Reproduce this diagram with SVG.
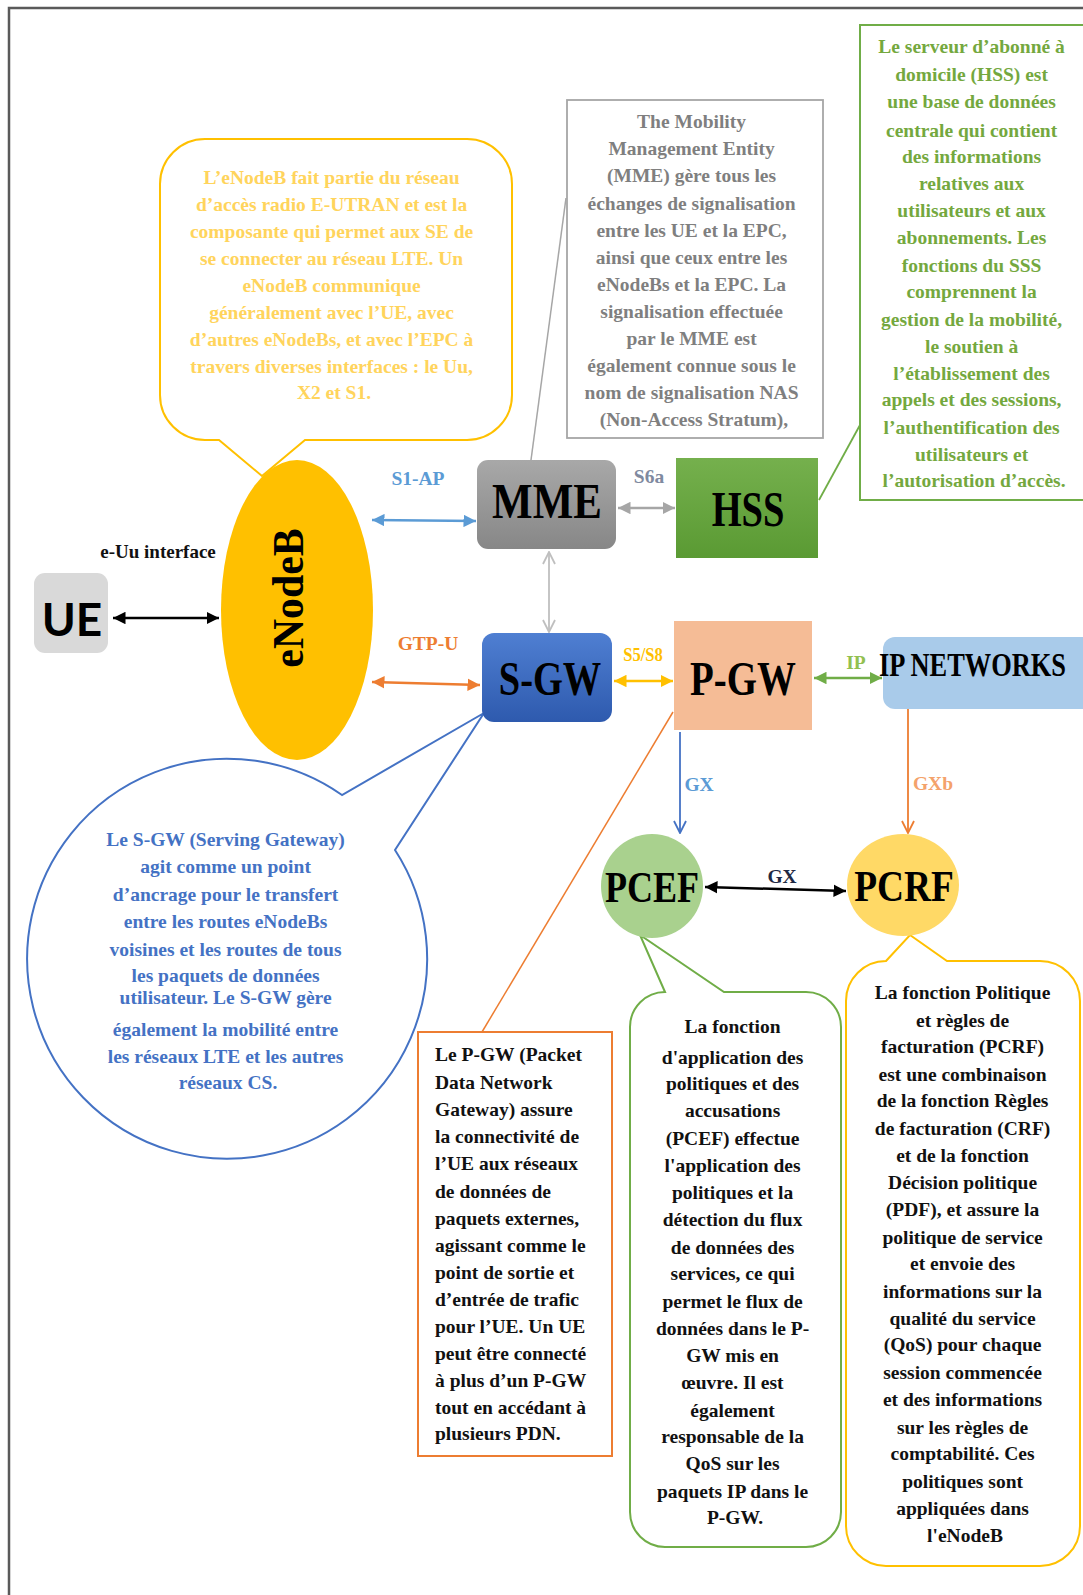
<svg xmlns="http://www.w3.org/2000/svg" width="1083" height="1595" viewBox="0 0 1083 1595">
<style>
  text { font-family: "Liberation Serif", "Times New Roman", serif; font-weight: bold; }
  .ct { font-size: 19.5px; }
  .mid { text-anchor: middle; }
  .big { fill: #000; text-anchor: middle; }
  .lbl { font-size: 19.5px; text-anchor: middle; }
  .thin { fill: none; stroke-width: 1.8; }
  .thick { fill: none; stroke-width: 2.5; }
</style>
<defs>
  <linearGradient id="gMME" x1="0" y1="0" x2="0" y2="1"><stop offset="0" stop-color="#A8A8A8"/><stop offset="1" stop-color="#878787"/></linearGradient>
  <linearGradient id="gHSS" x1="0" y1="0" x2="0" y2="1"><stop offset="0" stop-color="#75B04D"/><stop offset="1" stop-color="#5A9A33"/></linearGradient>
  <linearGradient id="gSGW" x1="0" y1="0" x2="0" y2="1"><stop offset="0" stop-color="#4F7FD2"/><stop offset="1" stop-color="#2E5AAE"/></linearGradient>
  <marker id="aK" viewBox="0 0 10 10" refX="10" refY="5" markerWidth="5" markerHeight="5" orient="auto-start-reverse"><path d="M0,0 L10,5 L0,10 Z" fill="#000"/></marker>
  <marker id="aB" viewBox="0 0 10 10" refX="10" refY="5" markerWidth="5" markerHeight="5" orient="auto-start-reverse"><path d="M0,0 L10,5 L0,10 Z" fill="#5B9BD5"/></marker>
  <marker id="aO" viewBox="0 0 10 10" refX="10" refY="5" markerWidth="5" markerHeight="5" orient="auto-start-reverse"><path d="M0,0 L10,5 L0,10 Z" fill="#ED7D31"/></marker>
  <marker id="aG" viewBox="0 0 10 10" refX="10" refY="5" markerWidth="5" markerHeight="5" orient="auto-start-reverse"><path d="M0,0 L10,5 L0,10 Z" fill="#A6A6A6"/></marker>
  <marker id="aY" viewBox="0 0 10 10" refX="10" refY="5" markerWidth="5" markerHeight="5" orient="auto-start-reverse"><path d="M0,0 L10,5 L0,10 Z" fill="#FFC000"/></marker>
  <marker id="aN" viewBox="0 0 10 10" refX="10" refY="5" markerWidth="5" markerHeight="5" orient="auto-start-reverse"><path d="M0,0 L10,5 L0,10 Z" fill="#70AD47"/></marker>
  <marker id="oG" viewBox="0 0 14 14" refX="13" refY="7" markerWidth="14" markerHeight="14" markerUnits="userSpaceOnUse" orient="auto-start-reverse"><path d="M1,1 L13,7 L1,13" fill="none" stroke="#BFBFBF" stroke-width="1.8"/></marker>
  <marker id="oB" viewBox="0 0 14 14" refX="13" refY="7" markerWidth="14" markerHeight="14" markerUnits="userSpaceOnUse" orient="auto-start-reverse"><path d="M1,1 L13,7 L1,13" fill="none" stroke="#4472C4" stroke-width="1.8"/></marker>
  <marker id="oO" viewBox="0 0 14 14" refX="13" refY="7" markerWidth="14" markerHeight="14" markerUnits="userSpaceOnUse" orient="auto-start-reverse"><path d="M1,1 L13,7 L1,13" fill="none" stroke="#ED7D31" stroke-width="1.8"/></marker>
</defs>
<rect width="1083" height="1595" fill="#fff"/>
<path d="M9,1595 V8 H1083" fill="none" stroke="#5A5A5A" stroke-width="2.5"/>

<!-- Callouts -->
<g id="callout-enodeb">
  <path d="M205,139 H467 A45,45 0 0 1 512,184 V395 A45,45 0 0 1 467,440 H305 L262,476 L219,440 H205 A45,45 0 0 1 160,395 V184 A45,45 0 0 1 205,139 Z" fill="#fff" stroke="#FFC000" stroke-width="2"/>
  <text class="ct mid" fill="#FFD45C">
    <tspan x="334" y="184">L’eNodeB fait partie du réseau</tspan>
    <tspan x="334" y="211">d’accès radio E-UTRAN et est la</tspan>
    <tspan x="334" y="238">composante qui permet aux SE de</tspan>
    <tspan x="334" y="265">se connecter au réseau LTE. Un</tspan>
    <tspan x="334" y="292">eNodeB communique</tspan>
    <tspan x="334" y="319">généralement avec l’UE, avec</tspan>
    <tspan x="334" y="346">d’autres eNodeBs, et avec l’EPC à</tspan>
    <tspan x="334" y="373">travers diverses interfaces : le Uu,</tspan>
    <tspan x="334" y="399">X2 et S1.</tspan>
  </text>
</g>
<g id="callout-mme">
  <rect x="567" y="100" width="256" height="338" fill="#fff" stroke="#A6A6A6" stroke-width="1.8"/>
  <text class="ct mid" fill="#7F7F7F">
    <tspan x="694" y="128">The Mobility</tspan>
    <tspan x="694" y="155">Management Entity</tspan>
    <tspan x="694" y="182">(MME) gère tous les</tspan>
    <tspan x="694" y="210">échanges de signalisation</tspan>
    <tspan x="694" y="237">entre les UE et la EPC,</tspan>
    <tspan x="694" y="264">ainsi que ceux entre les</tspan>
    <tspan x="694" y="291">eNodeBs et la EPC. La</tspan>
    <tspan x="694" y="318">signalisation  effectuée</tspan>
    <tspan x="694" y="345">par le MME est</tspan>
    <tspan x="694" y="372">également connue sous le</tspan>
    <tspan x="694" y="399">nom de signalisation NAS</tspan>
    <tspan x="694" y="426">(Non-Access Stratum),</tspan>
  </text>
</g>
<g id="callout-hss">
  <rect x="860" y="25" width="240" height="475" fill="#fff" stroke="#70AD47" stroke-width="2"/>
  <text class="ct mid" fill="#74A83E">
    <tspan x="974" y="53">Le serveur d’abonné à</tspan>
    <tspan x="974" y="81">domicile (HSS)  est</tspan>
    <tspan x="974" y="108">une base de données</tspan>
    <tspan x="974" y="137">centrale qui contient</tspan>
    <tspan x="974" y="163">des informations</tspan>
    <tspan x="974" y="190">relatives aux</tspan>
    <tspan x="974" y="217">utilisateurs et aux</tspan>
    <tspan x="974" y="244">abonnements. Les</tspan>
    <tspan x="974" y="272">fonctions du SSS</tspan>
    <tspan x="974" y="298">comprennent la</tspan>
    <tspan x="974" y="326">gestion de la mobilité,</tspan>
    <tspan x="974" y="353">le soutien à</tspan>
    <tspan x="974" y="380">l’établissement des</tspan>
    <tspan x="974" y="406">appels et des sessions,</tspan>
    <tspan x="974" y="434">l’authentification des</tspan>
    <tspan x="974" y="461">utilisateurs et</tspan>
    <tspan x="974" y="487">l’autorisation d’accès.</tspan>
  </text>
</g>
<g id="callout-sgw">
  <path d="M342,795 A200,200 0 1 0 395,850 L484,713 Z" fill="#fff" stroke="#4472C4" stroke-width="2"/>
  <text class="ct mid" fill="#4472C4">
    <tspan x="228" y="846">Le S-GW (Serving Gateway)</tspan>
    <tspan x="228" y="873">agit comme un point</tspan>
    <tspan x="228" y="901">d’ancrage pour le transfert</tspan>
    <tspan x="228" y="928">entre les routes eNodeBs</tspan>
    <tspan x="228" y="956">voisines et les routes de tous</tspan>
    <tspan x="228" y="982">les paquets de données</tspan>
    <tspan x="228" y="1004">utilisateur. Le S-GW gère</tspan>
    <tspan x="228" y="1036">également la mobilité entre</tspan>
    <tspan x="228" y="1063">les réseaux LTE et les autres</tspan>
    <tspan x="228" y="1089">réseaux CS.</tspan>
  </text>
</g>
<g id="callout-pgw">
  <rect x="418" y="1032" width="194" height="424" fill="#fff" stroke="#ED7D31" stroke-width="2"/>
  <text class="ct" fill="#111">
    <tspan x="435" y="1061">Le P-GW (Packet</tspan>
    <tspan x="435" y="1089">Data Network</tspan>
    <tspan x="435" y="1116">Gateway) assure</tspan>
    <tspan x="435" y="1143">la connectivité de</tspan>
    <tspan x="435" y="1170">l’UE aux réseaux</tspan>
    <tspan x="435" y="1198">de données de</tspan>
    <tspan x="435" y="1225">paquets externes,</tspan>
    <tspan x="435" y="1252">agissant comme le</tspan>
    <tspan x="435" y="1279">point de sortie et</tspan>
    <tspan x="435" y="1306">d’entrée de trafic</tspan>
    <tspan x="435" y="1333">pour l’UE. Un UE</tspan>
    <tspan x="435" y="1360">peut être connecté</tspan>
    <tspan x="435" y="1387">à plus d’un P-GW</tspan>
    <tspan x="435" y="1414">tout en accédant à</tspan>
    <tspan x="435" y="1440">plusieurs PDN.</tspan>
  </text>
</g>
<g id="callout-pcef">
  <path d="M665,992 L640,935 L724,992 H806 A35,35 0 0 1 841,1027 V1512 A35,35 0 0 1 806,1547 H665 A35,35 0 0 1 630,1512 V1027 A35,35 0 0 1 665,992 Z" fill="#fff" stroke="#70AD47" stroke-width="2"/>
  <text class="ct mid" fill="#111">
    <tspan x="735" y="1033">La fonction</tspan>
    <tspan x="735" y="1064">d'application des</tspan>
    <tspan x="735" y="1090">politiques et des</tspan>
    <tspan x="735" y="1117">accusations</tspan>
    <tspan x="735" y="1145">(PCEF) effectue</tspan>
    <tspan x="735" y="1172">l'application des</tspan>
    <tspan x="735" y="1199">politiques et la</tspan>
    <tspan x="735" y="1226">détection du flux</tspan>
    <tspan x="735" y="1254">de données des</tspan>
    <tspan x="735" y="1280">services, ce qui</tspan>
    <tspan x="735" y="1308">permet le flux de</tspan>
    <tspan x="735" y="1335">données dans le P-</tspan>
    <tspan x="735" y="1362">GW mis  en</tspan>
    <tspan x="735" y="1389">œuvre. Il est</tspan>
    <tspan x="735" y="1417">également</tspan>
    <tspan x="735" y="1443">responsable de la</tspan>
    <tspan x="735" y="1470">QoS sur les</tspan>
    <tspan x="735" y="1498">paquets IP dans le</tspan>
    <tspan x="735" y="1524">P-GW.</tspan>
  </text>
</g>
<g id="callout-pcrf">
  <path d="M886,961 L910,935 L947,961 H1040 A40,40 0 0 1 1080,1001 V1526 A40,40 0 0 1 1040,1566 H886 A40,40 0 0 1 846,1526 V1001 A40,40 0 0 1 886,961 Z" fill="#fff" stroke="#FFC000" stroke-width="2"/>
  <text class="ct mid" fill="#111">
    <tspan x="965" y="999">La fonction Politique</tspan>
    <tspan x="965" y="1027">et règles de</tspan>
    <tspan x="965" y="1053">facturation (PCRF)</tspan>
    <tspan x="965" y="1081">est une combinaison</tspan>
    <tspan x="965" y="1107">de la fonction Règles</tspan>
    <tspan x="965" y="1135">de facturation (CRF)</tspan>
    <tspan x="965" y="1162">et de la fonction</tspan>
    <tspan x="965" y="1189">Décision politique</tspan>
    <tspan x="965" y="1216">(PDF), et assure la</tspan>
    <tspan x="965" y="1244">politique de service</tspan>
    <tspan x="965" y="1270">et envoie des</tspan>
    <tspan x="965" y="1298">informations sur la</tspan>
    <tspan x="965" y="1325">qualité du service</tspan>
    <tspan x="965" y="1351">(QoS) pour chaque</tspan>
    <tspan x="965" y="1379">session  commencée</tspan>
    <tspan x="965" y="1406">et des informations</tspan>
    <tspan x="965" y="1434">sur les règles de</tspan>
    <tspan x="965" y="1460">comptabilité. Ces</tspan>
    <tspan x="965" y="1488">politiques sont</tspan>
    <tspan x="965" y="1515">appliquées dans</tspan>
    <tspan x="965" y="1542">l'eNodeB</tspan>
  </text>
</g>

<!-- Connectors -->
<g id="connectors">
  <line x1="566" y1="198" x2="531" y2="460" stroke="#A6A6A6" stroke-width="1.5"/>
  <line x1="860" y1="425" x2="819" y2="500" stroke="#70AD47" stroke-width="1.8"/>
  <line x1="673" y1="712" x2="482" y2="1032" stroke="#ED7D31" stroke-width="1.5"/>
  <line class="thick" x1="113" y1="618" x2="219" y2="618" stroke="#000" marker-start="url(#aK)" marker-end="url(#aK)"/>
  <line class="thick" x1="372" y1="520" x2="476" y2="521" stroke="#5B9BD5" marker-start="url(#aB)" marker-end="url(#aB)"/>
  <line class="thick" x1="372" y1="682" x2="480" y2="685" stroke="#ED7D31" marker-start="url(#aO)" marker-end="url(#aO)"/>
  <line class="thick" x1="618" y1="508" x2="675" y2="508" stroke="#A6A6A6" marker-start="url(#aG)" marker-end="url(#aG)"/>
  <line class="thin" x1="549" y1="552" x2="549" y2="632" stroke="#BFBFBF" marker-start="url(#oG)" marker-end="url(#oG)"/>
  <line class="thick" x1="614" y1="681" x2="673" y2="681" stroke="#FFC000" marker-start="url(#aY)" marker-end="url(#aY)"/>
  <line class="thick" x1="814" y1="678" x2="882" y2="678" stroke="#70AD47" marker-start="url(#aN)" marker-end="url(#aN)"/>
  <line class="thin" x1="680" y1="732" x2="680" y2="833" stroke="#4472C4" marker-end="url(#oB)"/>
  <line class="thin" x1="908" y1="709" x2="908" y2="833" stroke="#ED7D31" marker-end="url(#oO)"/>
  <line class="thick" x1="705" y1="887" x2="846" y2="891" stroke="#000" marker-start="url(#aK)" marker-end="url(#aK)"/>
  <text x="158" y="558" font-size="19" text-anchor="middle" fill="#111">e-Uu interface</text>
  <text class="lbl" x="418" y="485" fill="#5B9BD5">S1-AP</text>
  <text class="lbl" x="428" y="650" fill="#ED7D31">GTP-U</text>
  <text class="lbl" x="649" y="483" fill="#7F8AA0">S6a</text>
  <text class="lbl" transform="translate(643,661) scale(0.85,1)" x="0" y="0" font-size="19" fill="#FFC000">S5/S8</text>
  <text class="lbl" x="856" y="669" fill="#92C050">IP</text>
  <text class="lbl" x="699" y="791" fill="#5B9BD5">GX</text>
  <text class="lbl" x="933" y="790" fill="#F4A26B">GXb</text>
  <text class="lbl" x="782" y="883" fill="#1F2A44">GX</text>
</g>

<!-- Nodes -->
<g id="node-ue">
  <rect x="34" y="573" width="74" height="80" rx="11" fill="#D9D9D9"/>
  <text x="72" y="636" font-size="46" text-anchor="middle" fill="#000" style="font-family: Lato, 'Liberation Sans', sans-serif">UE</text>
</g>
<g id="node-enodeb">
  <ellipse cx="297" cy="610" rx="76" ry="150" fill="#FFC000"/>
  <text class="big" transform="translate(303,598) rotate(-90) scale(0.95,1)" font-size="44">eNodeB</text>
</g>
<g id="node-mme">
  <rect x="477" y="460" width="139" height="89" rx="11" fill="url(#gMME)"/>
  <text class="big" transform="translate(547,518) scale(0.86,1)" font-size="50">MME</text>
</g>
<g id="node-hss">
  <rect x="676" y="458" width="142" height="100" fill="url(#gHSS)"/>
  <text class="big" transform="translate(748,526) scale(0.77,1)" font-size="50">HSS</text>
</g>
<g id="node-sgw">
  <rect x="482" y="633" width="130" height="89" rx="12" fill="url(#gSGW)"/>
  <text class="big" transform="translate(550,695) scale(0.8,1)" font-size="48">S-GW</text>
</g>
<g id="node-pgw">
  <rect x="674" y="621" width="138" height="109" fill="#F5BC96"/>
  <text class="big" transform="translate(743,695) scale(0.81,1)" font-size="48">P-GW</text>
</g>
<g id="node-ipnet">
  <rect x="883" y="637" width="230" height="72" rx="12" fill="#A9CBEA"/>
  <text transform="translate(879,676) scale(0.8,1)" font-size="33" fill="#000">IP NETWORKS</text>
</g>
<g id="node-pcef">
  <ellipse cx="652" cy="886" rx="51" ry="52" fill="#A9D18E"/>
  <text class="big" transform="translate(652,902) scale(0.82,1)" font-size="44">PCEF</text>
</g>
<g id="node-pcrf">
  <ellipse cx="903" cy="885" rx="56" ry="51" fill="#FFD966"/>
  <text class="big" transform="translate(904,901) scale(0.85,1)" font-size="44">PCRF</text>
</g>
</svg>
